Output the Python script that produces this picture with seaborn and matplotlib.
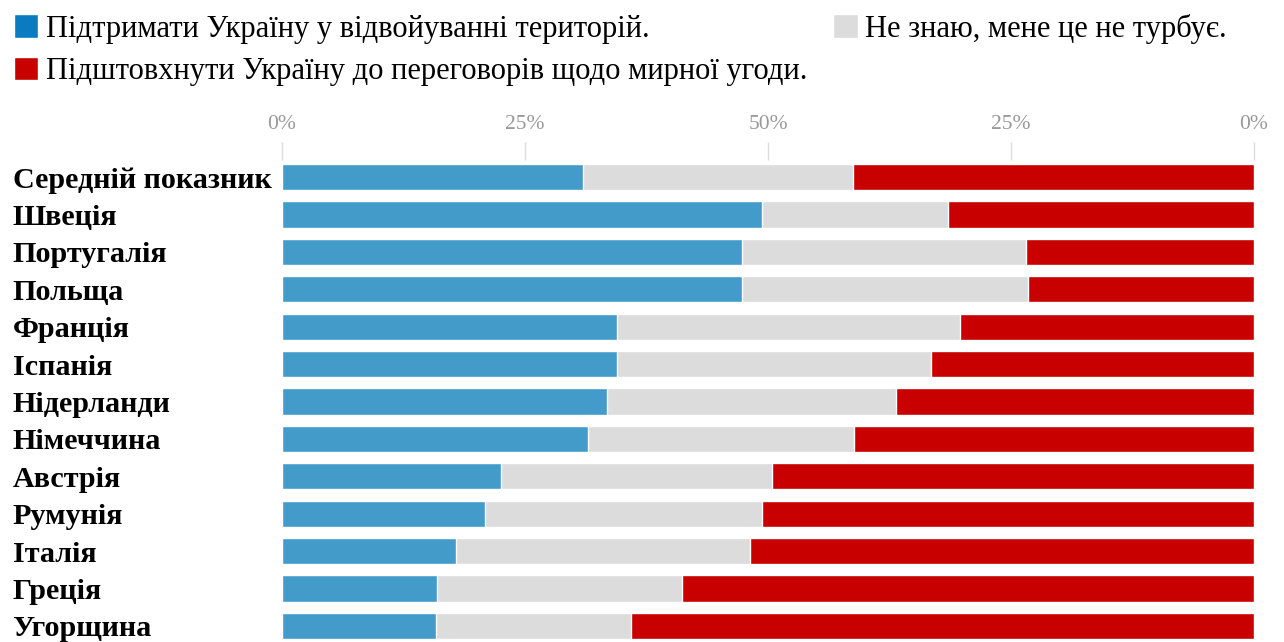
import matplotlib
matplotlib.use("Agg")
import matplotlib.pyplot as plt
import seaborn as sns
import pandas as pd
from matplotlib.patches import Patch

countries = ["Середній показник", "Швеція", "Португалія", "Польща", "Франція",
             "Іспанія", "Нідерланди", "Німеччина", "Австрія", "Румунія",
             "Італія", "Греція", "Угорщина"]
support = [31.0, 49.4, 47.3, 47.3, 34.5, 34.5, 33.4, 31.5, 22.5, 20.9, 17.9, 15.9, 15.8]
dont_know = [27.7, 19.1, 29.2, 29.4, 35.3, 32.3, 29.8, 27.3, 27.9, 28.5, 30.2, 25.3, 20.1]
negotiate = [100 - s - d for s, d in zip(support, dont_know)]

tick_pos = [0, 25, 50, 75, 100]
tick_labels = ["0%", "25%", "50%", "25%", "0%"]

legend_labels = ["Підтримати Україну у відвойуванні територій.",
                 "Підштовхнути Україну до переговорів щодо мирної угоди.",
                 "Не знаю, мене це не турбує."]

BLUE = "#439bca"
BLUE_LEG = "#0a7bc1"
GREY = "#dcdcdc"
RED = "#c80000"

df = pd.DataFrame({"country": countries, "support": support,
                   "dont_know": dont_know, "negotiate": negotiate})
df["cum_grey"] = df["support"] + df["dont_know"]
df["cum_red"] = df["cum_grey"] + df["negotiate"]

sns.set_style("white")
plt.rcParams["font.family"] = ["Liberation Serif", "DejaVu Serif"]

fig = plt.figure(figsize=(12.84, 6.42), dpi=100)
ax = fig.add_axes([282 / 1284, 0, 972 / 1284, 482 / 642])

# stacked bars drawn back to front
sns.barplot(data=df, x="cum_red", y="country", color=RED, orient="h",
            width=0.7, saturation=1, ax=ax)
sns.barplot(data=df, x="cum_grey", y="country", color=GREY, orient="h",
            width=0.7, saturation=1, ax=ax)
sns.barplot(data=df, x="support", y="country", color=BLUE, orient="h",
            width=0.7, saturation=1, ax=ax)

ax.set_xlim(0, 100)
ax.set_ylim(12.43, -0.455)
ax.set_xlabel("")
ax.set_ylabel("")
ax.xaxis.tick_top()
ax.set_xticks(tick_pos)
ax.set_xticklabels(tick_labels, fontsize=15.5, color="#999999")
ax.tick_params(axis="x", length=13, width=1, color="#dddddd", pad=6, direction="out")
ax.tick_params(axis="y", length=0, pad=194)
for lbl in ax.get_yticklabels():
    lbl.set_ha("left")
    lbl.set_fontweight("bold")
    lbl.set_fontsize(21.7)
    lbl.set_color("black")
for s in ax.spines.values():
    s.set_visible(False)

handles = [Patch(facecolor=BLUE_LEG), Patch(facecolor=RED), Patch(facecolor=GREY)]
fig.legend(handles, legend_labels, loc="upper left", bbox_to_anchor=(0.0, 1.0),
           ncol=2, frameon=False, fontsize=22, handlelength=0.8, handleheight=0.8,
           handletextpad=0.25, columnspacing=0.85, labelspacing=0.42,
           borderaxespad=0.15, borderpad=0.3, labelcolor="black")

fig.savefig("out.png", dpi=100)
